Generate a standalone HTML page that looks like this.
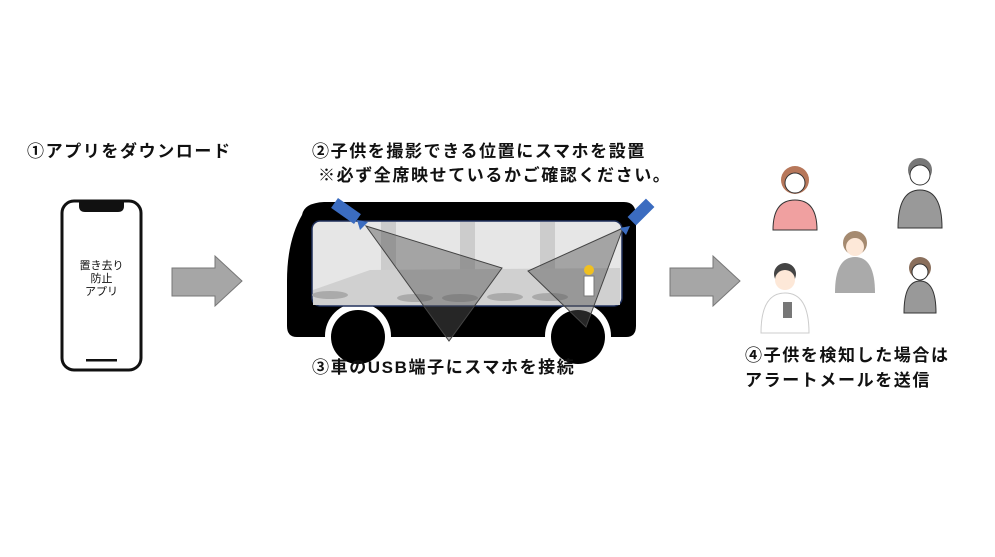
<!DOCTYPE html>
<html><head><meta charset="utf-8"><style>
body{margin:0;background:#fff;}
.t{position:absolute;font-family:"Liberation Sans","Noto Sans CJK JP",sans-serif;font-weight:bold;font-size:17px;letter-spacing:1.6px;color:#111;white-space:nowrap;line-height:20px}
</style></head><body>
<div style="position:relative;width:995px;height:557px;overflow:hidden">
<svg width="995" height="557" style="position:absolute;left:0;top:0">
<!-- phone -->
<rect x="62" y="201" width="79" height="169" rx="12" fill="#fff" stroke="#111" stroke-width="3"/>
<path d="M79 202 h45 v4 q0 6 -6 6 h-33 q-6 0 -6 -6z" fill="#111"/>
<rect x="86" y="359" width="31" height="2.5" fill="#111"/>
<!-- arrows -->
<polygon points="172,268 215,268 215,256 242,281 215,306 215,296 172,296" fill="#a6a6a6" stroke="#777"/>
<polygon points="670,268 713,268 713,256 740,281 713,306 713,296 670,296" fill="#a6a6a6" stroke="#777"/>
<!-- bus -->
<path d="M302 215 q2 -12 22 -13 h300 q12 0 12 14 v110 q0 11 -10 11 h-329 q-10 0 -10 -11 v-45 q0 -40 15 -66z" fill="#000"/>
<circle cx="358" cy="336" r="33" fill="#fff"/>
<circle cx="578" cy="336" r="33" fill="#fff"/>
<circle cx="358" cy="337" r="27" fill="#000"/>
<circle cx="578" cy="337" r="27" fill="#000"/>
<rect x="312" y="221" width="310" height="85" rx="8" fill="#e6e6e6" stroke="#1f2f5a" stroke-width="1.5"/>
<rect x="381" y="222" width="15" height="50" fill="#ccc"/>
<rect x="460" y="222" width="15" height="50" fill="#ccc"/>
<rect x="540" y="222" width="15" height="50" fill="#ccc"/>
<path d="M313 290 L370 270 L620 268 V305 H313z" fill="#d0d0d0"/>
<g fill="#aaa"><ellipse cx="330" cy="295" rx="18" ry="4"/><ellipse cx="415" cy="298" rx="18" ry="4"/><ellipse cx="460" cy="298" rx="18" ry="4"/><ellipse cx="505" cy="297" rx="18" ry="4"/><ellipse cx="550" cy="297" rx="18" ry="4"/></g>
<polygon points="366,226 502,268 449,341" fill="#555" fill-opacity="0.45" stroke="#444"/>
<polygon points="623,228 528,271 586,327" fill="#555" fill-opacity="0.45" stroke="#444"/>
<rect x="332" y="205" width="28" height="12" fill="#3b6cc0" transform="rotate(35 346 211)"/>
<polygon points="357,220 368,222 360,230" fill="#3b6cc0"/>
<rect x="628" y="206" width="26" height="12" fill="#3b6cc0" transform="rotate(-45 641 212)"/>
<polygon points="620,228 630,226 626,235" fill="#3b6cc0"/>
<circle cx="589" cy="270" r="5" fill="#f0c020"/>
<rect x="584" y="276" width="10" height="20" fill="#fff" stroke="#777"/>
<!-- people -->
<g>
<circle cx="795" cy="180" r="14" fill="#b7775a"/><circle cx="795" cy="183" r="10" fill="#fff" stroke="#333"/>
<path d="M773 230 q0 -30 22 -30 q22 0 22 30z" fill="#f0a0a0" stroke="#333"/>
<circle cx="920" cy="170" r="12" fill="#777"/><circle cx="920" cy="175" r="10" fill="#fff" stroke="#333"/>
<path d="M898 228 q0 -38 22 -38 q22 0 22 38z" fill="#999" stroke="#333"/>
<circle cx="855" cy="243" r="12" fill="#a58a70"/><circle cx="855" cy="247" r="9" fill="#fde8d8"/>
<path d="M835 293 q0 -36 20 -36 q20 0 20 36z" fill="#aaa"/>
<circle cx="920" cy="268" r="11" fill="#8a6f5c"/><circle cx="920" cy="272" r="8" fill="#fff" stroke="#333"/>
<path d="M904 313 q0 -32 16 -32 q16 0 16 32z" fill="#999" stroke="#333"/>
<circle cx="785" cy="274" r="11" fill="#444"/><circle cx="785" cy="280" r="10" fill="#fde8d8"/>
<path d="M761 333 q0 -40 24 -40 q24 0 24 40z" fill="#fff" stroke="#ccc"/>
<rect x="783" y="302" width="9" height="16" fill="#777"/>
</g>
</svg>
<div class="t" style="left:27px;top:142px">①アプリをダウンロード</div>
<div class="t" style="left:312px;top:142px">②子供を撮影できる位置にスマホを設置</div>
<div class="t" style="left:318px;top:166px">※必ず全席映せているかご確認ください。</div>
<div class="t" style="left:312px;top:358px">③車のUSB端子にスマホを接続</div>
<div class="t" style="left:745px;top:346px">④子供を検知した場合は</div>
<div class="t" style="left:745px;top:371px">アラートメールを送信</div>
<div class="t" style="left:62px;top:260px;width:79px;text-align:center;font-weight:normal;font-size:11px;letter-spacing:0;line-height:13px">置き去り<br>防止<br>アプリ</div>
</div>
</body></html>
